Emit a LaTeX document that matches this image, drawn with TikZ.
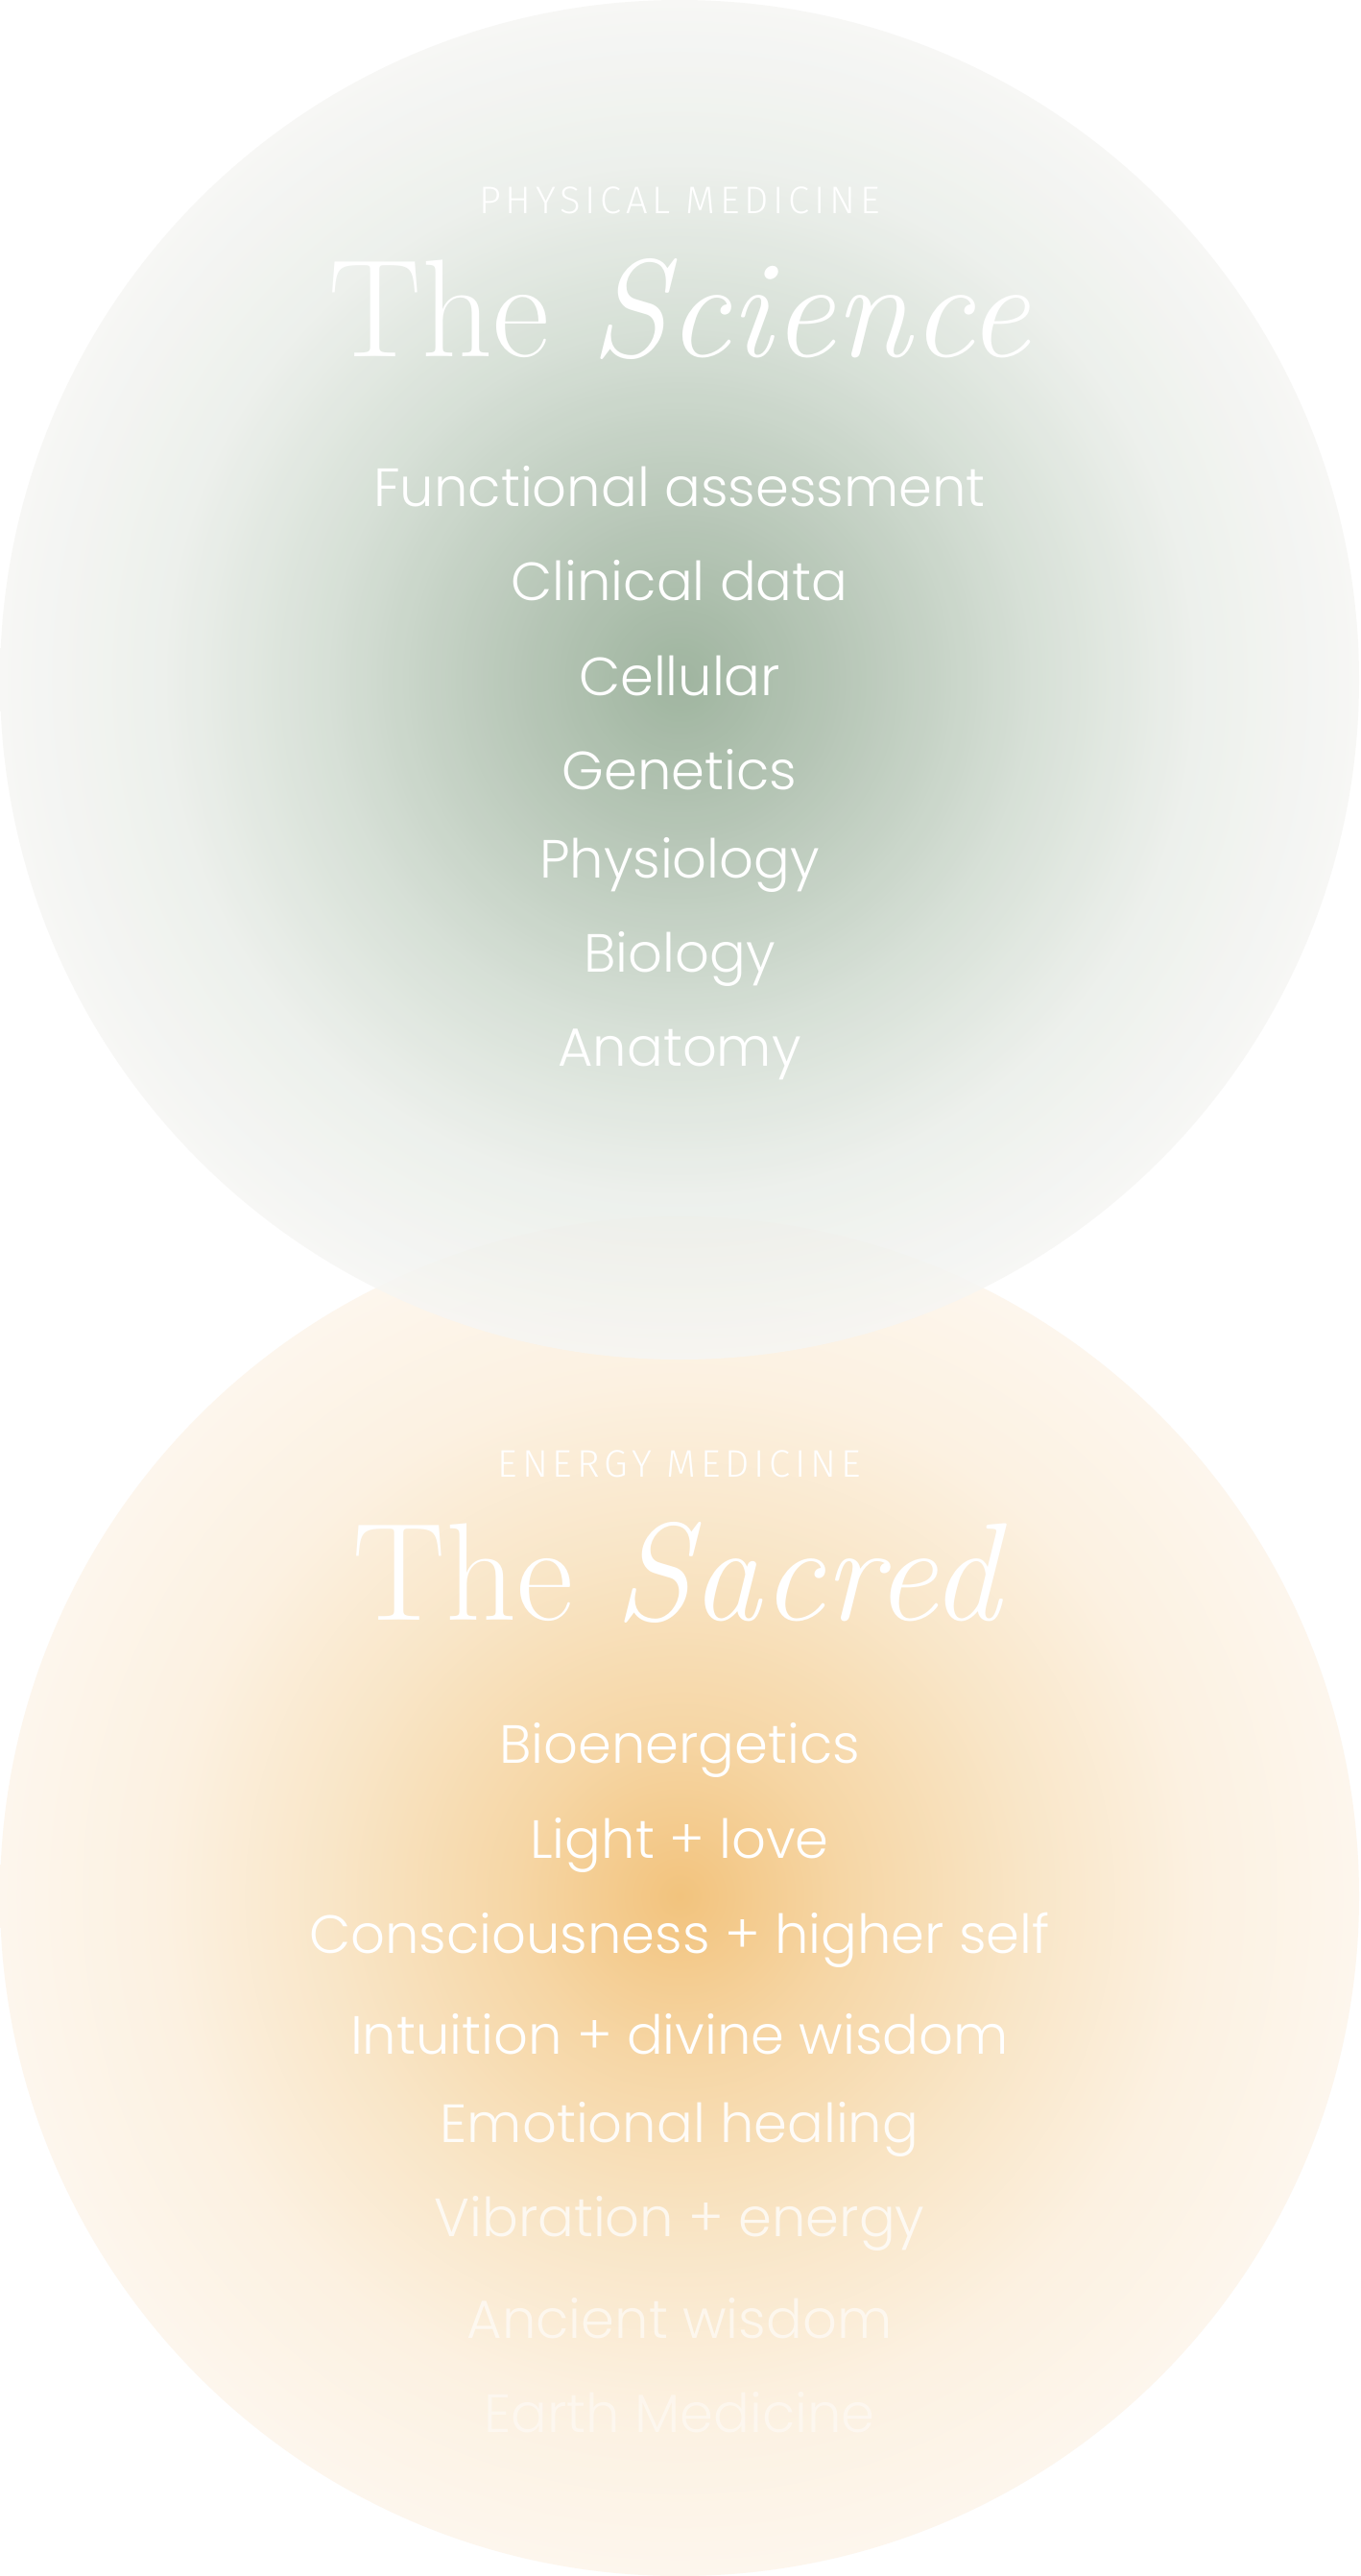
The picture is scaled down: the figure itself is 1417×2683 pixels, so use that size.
\documentclass[tikz,border=0pt]{standalone}
\usepackage{fontspec}
\newfontfamily\listfont{Poppins Light}
\newfontfamily\capfont[LetterSpace=12]{Fira Sans Light}
\definecolor{gA}{RGB}{143,168,143}
\definecolor{gB}{RGB}{172,190,172}
\definecolor{gC}{RGB}{208,219,208}
\definecolor{gD}{RGB}{234,238,233}
\definecolor{gE}{RGB}{246,246,244}
\definecolor{oA}{RGB}{242,195,125}
\definecolor{oB}{RGB}{246,214,165}
\definecolor{oC}{RGB}{249,230,200}
\definecolor{oD}{RGB}{252,241,225}
\definecolor{oE}{RGB}{253,246,237}
\begin{document}
\pgfdeclareradialshading{greenglow}{\pgfpoint{0bp}{0bp}}{%
 color(0bp)=(gA); color(6bp)=(gB); color(13bp)=(gC);
 color(19bp)=(gD); color(25bp)=(gE); color(50bp)=(gE)}
\pgfdeclareradialshading{goldglow}{\pgfpoint{0bp}{0bp}}{%
 color(0bp)=(oA); color(6bp)=(oB); color(13bp)=(oC);
 color(19bp)=(oD); color(25bp)=(oE); color(50bp)=(oE)}
\begin{tikzpicture}[x=1pt,y=-1pt,
  captext/.style={text=white,font=\capfont\fontsize{40}{48}\selectfont},
  ttl/.style={text=white,font=\fontsize{145}{160}\selectfont},
  item/.style={text=white,font=\listfont\fontsize{56}{66}\selectfont}]
\fill[white] (0,0) rectangle (1417,2683);
\useasboundingbox (0,0) rectangle (1417,2683);
\shade[shading=goldglow] (708,1975) circle (708);
\shade[shading=greenglow,opacity=0.85] (708,708) circle (708);
\node[captext] (c1) at (708,209) {PHYSICAL MEDICINE};
\node[ttl] (t1) at (708,322) {The \textit{Science}};
\node[item] (a1) at (708,507) {Functional assessment};
\node[item] (a2) at (708,605) {Clinical data};
\node[item] (a3) at (708,704) {Cellular};
\node[item] (a4) at (708,802) {Genetics};
\node[item] (a5) at (708,901) {Physiology};
\node[item] (a6) at (708,999) {Biology};
\node[item] (a7) at (708,1098) {Anatomy};
\node[captext] (c2) at (708,1525) {ENERGY MEDICINE};
\node[ttl] (t2) at (708,1638) {The \textit{Sacred}};
\node[item] (b1) at (708,1823) {Bioenergetics};
\node[item] (b2) at (708,1922) {Light + love};
\node[item] (b3) at (708,2021) {Consciousness + higher self};
\node[item] (b4) at (708,2119) {Intuition + divine wisdom};
\node[item,opacity=0.9] (b5) at (708,2218) {Emotional healing};
\node[item,opacity=0.75] (b6) at (708,2316) {Vibration + energy};
\node[item,opacity=0.6] (b7) at (708,2415) {Ancient wisdom};
\node[item,opacity=0.45] (b8) at (708,2513) {Earth Medicine};
\end{tikzpicture}
\end{document}
